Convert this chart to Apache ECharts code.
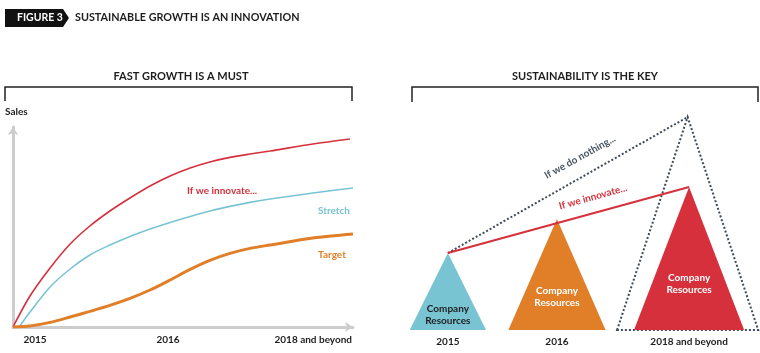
<!DOCTYPE html>
<html>
<head>
<meta charset="utf-8">
<script src="https://cdn.jsdelivr.net/npm/echarts@6/dist/echarts.min.js"></script>
<style>
  html, body { margin: 0; padding: 0; background: #fff; }
  #chart { width: 760px; height: 353px; }
</style>
</head>
<body>
<div id="chart"></div>
<script>
// left panel: sales curves (x = time 0..100, y = sales 0..100)
var timeX = [5, 10.9, 16.8, 22.6, 28.5, 34.4, 40.3, 46.2, 52.1, 57.9, 63.8, 69.7, 75.6, 88.2]
var innovateX = [0].concat(timeX, [99.1])
var stretchX  = [1.8].concat(timeX, [100])
var targetX   = [0].concat(timeX, [100])
var innovateValues = [0, 15.5, 29.5, 41.5, 50.5, 58, 64.5, 70.5, 75.5, 79.5, 82.5, 84.8, 86.5, 88, 91.5, 94]
var stretchValues  = [0, 7.5, 20, 29, 36, 41, 45.3, 49, 52.3, 55.3, 58, 60.3, 62.3, 64, 67, 69.5]
var targetValues   = [0, 0.5, 2.3, 5, 7.8, 10.8, 14.3, 18.5, 23.5, 28.8, 33.3, 36.8, 39.3, 41, 44.5, 46.5]
var timeLabels = ['2015', '2016', '2018 and beyond']

// right panel: company resources triangles
var resourceYears   = ['2015', '2016', '2018 and beyond']
var resourceCenter  = [13.3, 43.6, 80.3]
var resourceHeight  = [35, 50.5, 65]
var resourceHalfW   = [10.6, 13.5, 15.3]
var nothingTriangle = [79.9, 96.8, 19.6]   // center, height, half width

var RED = '#d5303c', CYAN = '#79c4d3', ORANGE = '#e07f27', DOTS = '#3f4b57'
var FONT = 'Lato'

function zip(xs, ys) {
    return xs.map(function (x, i) { return [x, ys[i]] })
}

var chart = echarts.init(document.getElementById('chart'))

var axisLine = {
    show: true,
    symbol: ['none', 'arrow'],
    symbolSize: [8, 8],
    lineStyle: { color: '#cdcdcd', width: 3 }
}
var hiddenAxis = { type: 'value', show: false }

function triangle(params, api, withLabels) {
    var c = api.value(0), h = api.value(1), w = api.value(2)
    var apex = api.coord([c, h])
    var left = api.coord([c - w, 0])
    var right = api.coord([c + w, 0])
    var children = []
    if (!withLabels) {
        children.push({
            type: 'polygon',
            shape: { points: [left, apex, right] },
            style: { fill: 'none', stroke: DOTS, lineWidth: 2, lineDash: [2, 2] }
        })
        return { type: 'group', children: children }
    }
    var fills = [CYAN, ORANGE, RED]
    var labelAt = [0.2, 0.3, 0.32]
    var textColor = params.dataIndex === 0 ? '#1e1e1e' : '#ffffff'
    var mid = api.coord([c, h * labelAt[params.dataIndex]])
    children.push({
        type: 'polygon',
        shape: { points: [left, apex, right] },
        style: { fill: fills[params.dataIndex] }
    })
    children.push({
        type: 'text',
        x: mid[0], y: mid[1],
        style: {
            text: 'Company\nResources', fill: textColor, align: 'center', verticalAlign: 'middle',
            font: 'bold 10px ' + FONT, lineHeight: 12
        }
    })
    children.push({
        type: 'text',
        x: apex[0], y: left[1] + 12,
        style: {
            text: resourceYears[params.dataIndex], fill: '#1e1e1e', align: 'center', verticalAlign: 'middle',
            font: 'bold 10px ' + FONT
        }
    })
    return { type: 'group', children: children }
}

var resourceData = resourceCenter.map(function (c, i) {
    return [c, resourceHeight[i], resourceHalfW[i]]
})

function txt(text, x, y, opts) {
    opts = opts || {}
    return {
        type: 'text', x: x, y: y, rotation: opts.rotation || 0,
        style: {
            text: text, fill: opts.color || '#1e1e1e', align: opts.align || 'left', verticalAlign: 'middle',
            font: 'bold ' + (opts.size || 10) + 'px ' + FONT
        }
    }
}

var option = {
    animation: false,
    grid: [
        { left: 13, top: 127, width: 340, height: 200 },
        { left: 400, top: 110, width: 360, height: 220 }
    ],
    xAxis: [
        { type: 'value', gridIndex: 0, min: 0, max: 100, axisLine: axisLine, axisTick: { show: false }, axisLabel: { show: false }, splitLine: { show: false } },
        Object.assign({ gridIndex: 1, min: 0, max: 100 }, hiddenAxis)
    ],
    yAxis: [
        { type: 'value', gridIndex: 0, min: 0, max: 100, axisLine: axisLine, axisTick: { show: false }, axisLabel: { show: false }, splitLine: { show: false } },
        Object.assign({ gridIndex: 1, min: 0, max: 100 }, hiddenAxis)
    ],
    series: [
        {
            type: 'line', xAxisIndex: 0, yAxisIndex: 0, smooth: 0.3, showSymbol: false,
            data: zip(innovateX, innovateValues), lineStyle: { color: RED, width: 1.6 }
        },
        {
            type: 'line', xAxisIndex: 0, yAxisIndex: 0, smooth: 0.3, showSymbol: false,
            data: zip(stretchX, stretchValues), lineStyle: { color: CYAN, width: 1.6 }
        },
        {
            type: 'line', xAxisIndex: 0, yAxisIndex: 0, smooth: 0.3, showSymbol: false,
            data: zip(targetX, targetValues), lineStyle: { color: ORANGE, width: 3 }
        },
        {
            type: 'custom', xAxisIndex: 1, yAxisIndex: 1,
            renderItem: function (p, api) { return triangle(p, api, false) },
            data: [nothingTriangle]
        },
        {
            type: 'custom', xAxisIndex: 1, yAxisIndex: 1,
            renderItem: function (p, api) { return triangle(p, api, true) },
            data: resourceData
        },
        {
            type: 'line', xAxisIndex: 1, yAxisIndex: 1, showSymbol: false,
            data: [[resourceCenter[0], resourceHeight[0]], [nothingTriangle[0], nothingTriangle[1]]],
            lineStyle: { color: DOTS, width: 2, type: [2, 2] }
        },
        {
            type: 'line', xAxisIndex: 1, yAxisIndex: 1, showSymbol: false,
            data: [[resourceCenter[0], resourceHeight[0]], [resourceCenter[2], resourceHeight[2]]],
            lineStyle: { color: RED, width: 2 }
        }
    ],
    graphic: [
        { type: 'polygon', shape: { points: [[5, 9], [63, 9], [69, 18], [63, 27], [5, 27]] }, style: { fill: '#111' } },
        txt('FIGURE 3', 17, 18, { color: '#fff', size: 10.5 }),
        txt('SUSTAINABLE GROWTH IS AN INNOVATION', 75, 18, { size: 10.8 }),
        txt('FAST GROWTH IS A MUST', 181, 76, { align: 'center', size: 11 }),
        txt('SUSTAINABILITY IS THE KEY', 585, 76, { align: 'center', size: 11 }),
        { type: 'polyline', shape: { points: [[5, 101], [5, 87], [352, 87], [352, 101]] }, style: { stroke: '#222', lineWidth: 1.5, fill: 'none' } },
        { type: 'polyline', shape: { points: [[412, 102], [412, 87], [758, 87], [758, 102]] }, style: { stroke: '#222', lineWidth: 1.5, fill: 'none' } },
        txt('Sales', 5, 112),
        txt(timeLabels[0], 35, 340, { align: 'center' }),
        txt(timeLabels[1], 168, 340, { align: 'center' }),
        txt(timeLabels[2], 352, 340, { align: 'right' }),
        txt('If we innovate...', 187, 191, { color: RED }),
        txt('Stretch', 350, 211, { color: CYAN, align: 'right' }),
        txt('Target', 318, 255, { color: ORANGE }),
        txt('If we do nothing...', 580, 157, { color: '#4a5561', align: 'center', rotation: 29 * Math.PI / 180 }),
        txt('If we innovate...', 593, 197, { color: RED, align: 'center', rotation: 15.5 * Math.PI / 180 })
    ]
}

chart.setOption(option)
</script>
</body>
</html>
